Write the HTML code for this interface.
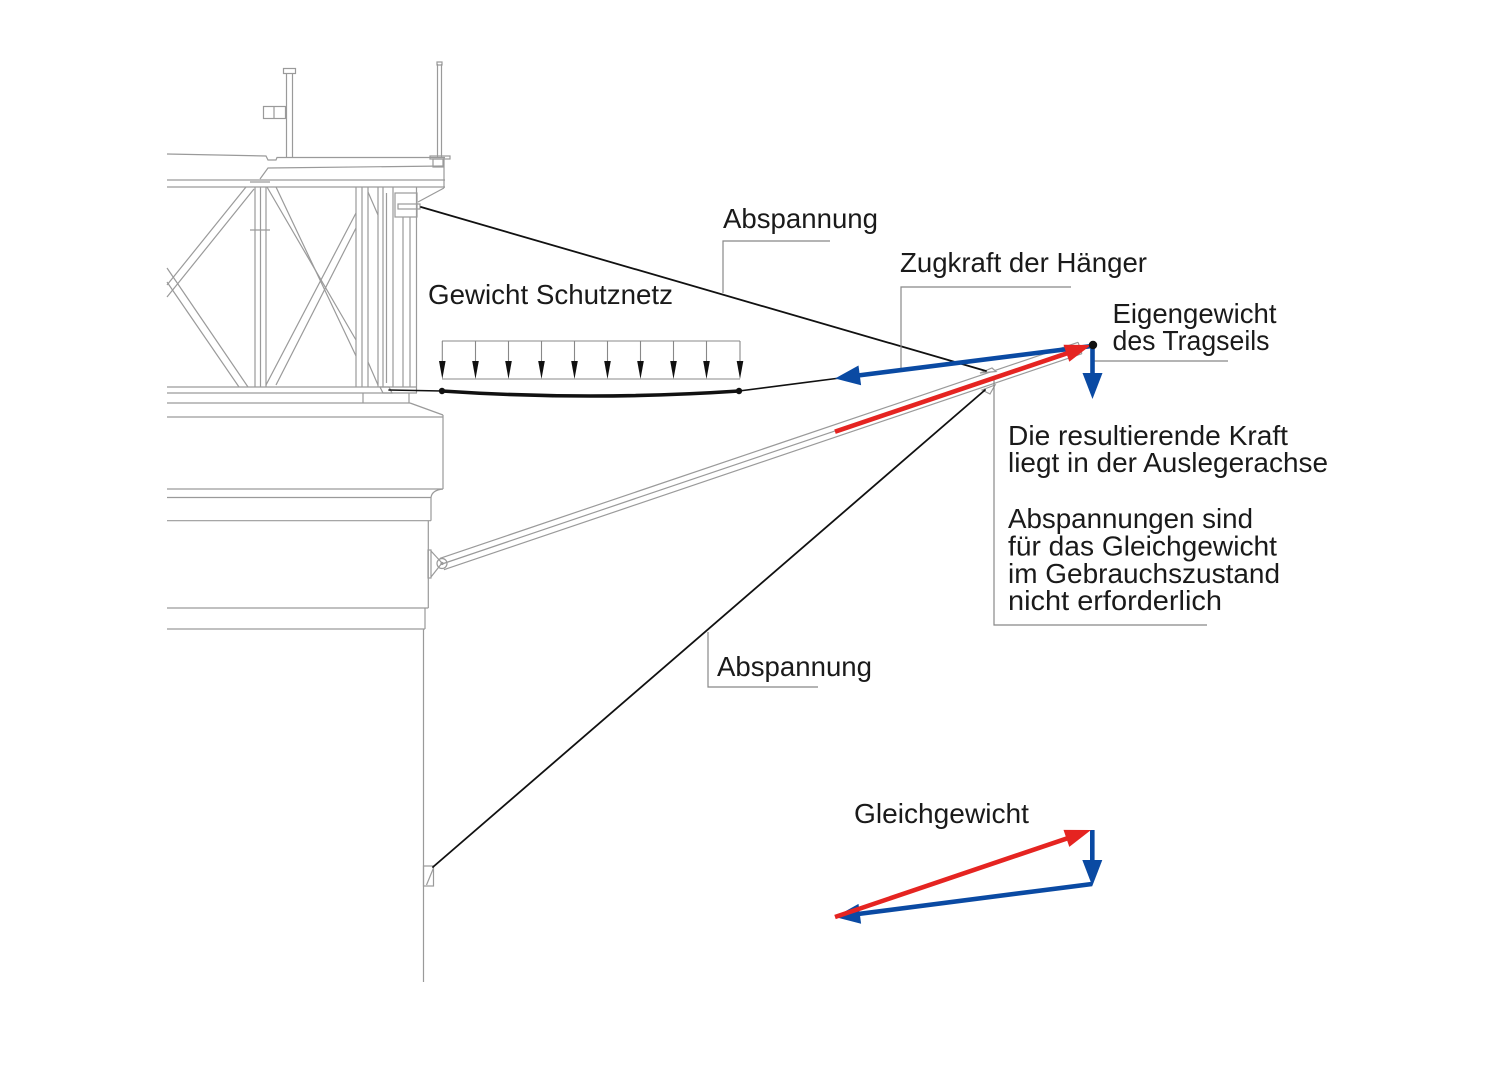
<!DOCTYPE html>
<html>
<head>
<meta charset="utf-8">
<style>
html,body{margin:0;padding:0;background:#fff;}
svg{display:block;}
text{font-family:"Liberation Sans",sans-serif;font-size:27.5px;fill:#1a1a1a;}
</style>
</head>
<body>
<svg width="1500" height="1068" viewBox="0 0 1500 1068" xmlns="http://www.w3.org/2000/svg">
<rect width="1500" height="1068" fill="#fff"/>

<!-- ===== Structure (gray) ===== -->
<g fill="none" stroke="#9a9a9a" stroke-width="1.2">
  <!-- flag pole left -->
  <line x1="286.5" y1="73" x2="286.5" y2="157"/>
  <line x1="292.5" y1="73" x2="292.5" y2="157"/>
  <rect x="283.5" y="68.5" width="12" height="5"/>
  <rect x="263.5" y="106.5" width="22" height="12"/>
  <line x1="274" y1="106.5" x2="274" y2="118.5"/>
  <!-- right post -->
  <line x1="437.5" y1="64" x2="437.5" y2="157"/>
  <line x1="441.5" y1="64" x2="441.5" y2="157"/>
  <rect x="437" y="62" width="5" height="3"/>
  <!-- deck -->
  <polyline points="167,154 266,156 268,160 276,160 277,157.5 445,157.5"/>
  <rect x="430" y="156" width="20" height="3"/>
  <rect x="433" y="159" width="10" height="8"/>
  <polyline points="260,179 268,168 444,166"/>
  <line x1="167" y1="180" x2="445" y2="180"/>
  <line x1="167" y1="187" x2="445" y2="187"/>
  <line x1="444" y1="158" x2="444" y2="188"/>
  <line x1="444" y1="188" x2="418" y2="202"/>
  <!-- truss post A -->
  <line x1="255" y1="187" x2="255" y2="387"/>
  <line x1="260.5" y1="187" x2="260.5" y2="387"/>
  <line x1="266" y1="187" x2="266" y2="387"/>
  <line x1="250" y1="230" x2="270" y2="230"/>
  <line x1="250" y1="182" x2="270" y2="182"/>
  <!-- right post group -->
  <line x1="356" y1="187" x2="356" y2="387"/>
  <line x1="362" y1="187" x2="362" y2="387"/>
  <line x1="368" y1="187" x2="368" y2="387"/>
  <line x1="378" y1="187" x2="378" y2="387"/>
  <line x1="383" y1="187" x2="383" y2="387"/>
  <line x1="386.5" y1="193" x2="386.5" y2="383"/>
  <line x1="393" y1="187" x2="393" y2="387"/>
  <line x1="403" y1="217" x2="403" y2="387"/>
  <line x1="410" y1="217" x2="410" y2="387"/>
  <line x1="416.5" y1="187" x2="416.5" y2="393"/>
  <rect x="395" y="193" width="22" height="24"/>
  <rect x="398" y="204" width="22" height="5"/>
  <line x1="368" y1="192" x2="378" y2="215"/>
  <line x1="368" y1="362" x2="378" y2="385"/>
  <!-- panel 1 diagonals -->
  <line x1="167" y1="285" x2="246" y2="187"/>
  <line x1="167" y1="297" x2="254" y2="189"/>
  <line x1="167" y1="268" x2="248" y2="387"/>
  <line x1="167" y1="282" x2="239" y2="387"/>
  <!-- panel 2 diagonals -->
  <line x1="267" y1="187" x2="356" y2="340"/>
  <line x1="276" y1="187" x2="356" y2="356"/>
  <line x1="266" y1="385" x2="356" y2="213"/>
  <line x1="276" y1="385" x2="356" y2="228"/>
  <!-- bottom chords -->
  <line x1="167" y1="387" x2="417" y2="387"/>
  <line x1="167" y1="393" x2="417" y2="393"/>
  <line x1="167" y1="403" x2="410" y2="403"/>
  <line x1="363" y1="393" x2="363" y2="403"/>
  <line x1="409" y1="393" x2="409" y2="403"/>
  <line x1="410" y1="403" x2="443" y2="415"/>
  <polygon points="380,387 389,387 392,393 383,393"/>
  <!-- pier -->
  <line x1="167" y1="417" x2="443" y2="417"/>
  <line x1="443" y1="415" x2="443" y2="489"/>
  <line x1="167" y1="489" x2="443" y2="489"/>
  <path d="M443,489 Q432,490 431,497.5"/>
  <line x1="167" y1="497.5" x2="431" y2="497.5"/>
  <line x1="431" y1="497.5" x2="431" y2="520.7"/>
  <line x1="167" y1="520.7" x2="431" y2="520.7"/>
  <line x1="428.3" y1="520.7" x2="428.3" y2="608"/>
  <line x1="167" y1="608" x2="428.3" y2="608"/>
  <line x1="425" y1="608" x2="425" y2="629"/>
  <line x1="167" y1="629" x2="425" y2="629"/>
  <line x1="423.5" y1="629" x2="423.5" y2="982"/>
  <!-- upper pier bracket -->
  <rect x="428" y="550" width="3" height="28"/>
  <polyline points="431,551 442,563 431,577"/>
  <circle cx="442" cy="563.5" r="5"/>
  <circle cx="442" cy="563.5" r="1" fill="#9a9a9a"/>
  <!-- boom -->
  <line x1="440.1" y1="558.3" x2="1078.1" y2="342.3"/>
  <line x1="442" y1="564" x2="1080" y2="348"/>
  <line x1="443.9" y1="569.7" x2="1081.9" y2="353.7"/>
  <line x1="1078.1" y1="342.3" x2="1081.9" y2="353.7"/>
  <polygon points="980,373 992,368 996,371.5" fill="#fff"/>
  <polygon points="982,390 995,385 990,394" fill="#fff"/>
  <!-- lower bracket -->
  <rect x="423.5" y="866" width="10" height="20"/>
  <line x1="433.5" y1="868" x2="426.5" y2="885"/>
</g>

<!-- ===== Cables (black) ===== -->
<g fill="none" stroke="#111" stroke-linecap="round">
  <line x1="421" y1="207" x2="986" y2="371" stroke-width="1.8"/>
  <line x1="433" y1="867" x2="985" y2="390" stroke-width="1.8"/>
  <line x1="389" y1="390" x2="442" y2="391" stroke-width="1.6"/>
  <path d="M442,391 Q590,401 739,391" stroke-width="3.6"/>
  <line x1="739" y1="391" x2="840" y2="378" stroke-width="1.6"/>
</g>
<circle cx="442" cy="391" r="3.2" fill="#111"/>
<circle cx="739" cy="391" r="3.2" fill="#111"/>

<!-- ===== Load arrows ===== -->
<g stroke="#888" stroke-width="1.1" fill="none">
  <line x1="442" y1="341" x2="740" y2="341"/>
  <line x1="442" y1="379" x2="740" y2="379"/>
  <line x1="442.3" y1="341" x2="442.3" y2="364"/>
  <line x1="475.5" y1="341" x2="475.5" y2="364"/>
  <line x1="508.5" y1="341" x2="508.5" y2="364"/>
  <line x1="541.5" y1="341" x2="541.5" y2="364"/>
  <line x1="574.5" y1="341" x2="574.5" y2="364"/>
  <line x1="607.5" y1="341" x2="607.5" y2="364"/>
  <line x1="640.5" y1="341" x2="640.5" y2="364"/>
  <line x1="673.5" y1="341" x2="673.5" y2="364"/>
  <line x1="706.5" y1="341" x2="706.5" y2="364"/>
  <line x1="740" y1="341" x2="740" y2="364"/>
</g>
<g fill="#111">
  <polygon points="439,361 445.6,361 442.3,379"/>
  <polygon points="472.2,361 478.8,361 475.5,379"/>
  <polygon points="505.2,361 511.8,361 508.5,379"/>
  <polygon points="538.2,361 544.8,361 541.5,379"/>
  <polygon points="571.2,361 577.8,361 574.5,379"/>
  <polygon points="604.2,361 610.8,361 607.5,379"/>
  <polygon points="637.2,361 643.8,361 640.5,379"/>
  <polygon points="670.2,361 676.8,361 673.5,379"/>
  <polygon points="703.2,361 709.8,361 706.5,379"/>
  <polygon points="736.7,361 743.3,361 740,379"/>
</g>

<!-- ===== Leader lines ===== -->
<g fill="none" stroke="#888" stroke-width="1.2">
  <polyline points="830,241 723,241 723,293"/>
  <polyline points="1071,287 901,287 901,369"/>
  <line x1="1094" y1="361" x2="1228" y2="361"/>
  <polyline points="994,378 994,625 1207,625"/>
  <polyline points="708,632 708,687 818,687"/>
</g>

<!-- ===== Force arrows (top) ===== -->
<g stroke-linecap="butt">
  <line x1="1092" y1="346" x2="858" y2="375.5" stroke="#0a4aa3" stroke-width="4.6"/>
  <polygon points="835,378.5 861.1,385.3 858.5,365.5" fill="#0a4aa3"/>
  <line x1="835" y1="431.7" x2="1067" y2="353.3" stroke="#e52421" stroke-width="4.6"/>
  <polygon points="1091,345 1069.3,361.8 1063.5,344.8" fill="#e52421"/>
  <line x1="1092.5" y1="345" x2="1092.5" y2="375" stroke="#0a4aa3" stroke-width="4.6"/>
  <polygon points="1082.5,373 1102.5,373 1092.5,399" fill="#0a4aa3"/>
</g>
<circle cx="1093" cy="345" r="4.2" fill="#111"/>

<!-- ===== Force triangle (bottom) ===== -->
<g stroke-linecap="butt">
  <line x1="1092" y1="884" x2="858" y2="914" stroke="#0a4aa3" stroke-width="4.6"/>
  <polygon points="835,917 861.1,923.7 858.5,903.9" fill="#0a4aa3"/>
  <line x1="1092.3" y1="830" x2="1092.3" y2="862" stroke="#0a4aa3" stroke-width="4.6"/>
  <polygon points="1082.3,860 1102.3,860 1092.3,886" fill="#0a4aa3"/>
  <line x1="835" y1="917" x2="1067" y2="838.4" stroke="#e52421" stroke-width="4.6"/>
  <polygon points="1091,830 1069.3,846.9 1063.5,829.9" fill="#e52421"/>
</g>

<!-- ===== Labels ===== -->
<text x="723" y="228" textLength="155" lengthAdjust="spacingAndGlyphs">Abspannung</text>
<text x="900" y="272" textLength="247" lengthAdjust="spacingAndGlyphs">Zugkraft der Hänger</text>
<text x="428" y="304" textLength="245" lengthAdjust="spacingAndGlyphs">Gewicht Schutznetz</text>
<text x="1112.5" y="323" textLength="164" lengthAdjust="spacingAndGlyphs">Eigengewicht</text>
<text x="1112.5" y="350" textLength="157" lengthAdjust="spacingAndGlyphs">des Tragseils</text>
<text x="1008" y="445" textLength="280" lengthAdjust="spacingAndGlyphs">Die resultierende Kraft</text>
<text x="1008" y="472" textLength="320" lengthAdjust="spacingAndGlyphs">liegt in der Auslegerachse</text>
<text x="1008" y="528" textLength="245" lengthAdjust="spacingAndGlyphs">Abspannungen sind</text>
<text x="1008" y="555.5" textLength="269" lengthAdjust="spacingAndGlyphs">für das Gleichgewicht</text>
<text x="1008" y="583" textLength="272" lengthAdjust="spacingAndGlyphs">im Gebrauchszustand</text>
<text x="1008" y="610" textLength="214" lengthAdjust="spacingAndGlyphs">nicht erforderlich</text>
<text x="717" y="676" textLength="155" lengthAdjust="spacingAndGlyphs">Abspannung</text>
<text x="854" y="823" textLength="175" lengthAdjust="spacingAndGlyphs">Gleichgewicht</text>
</svg>
</body>
</html>
